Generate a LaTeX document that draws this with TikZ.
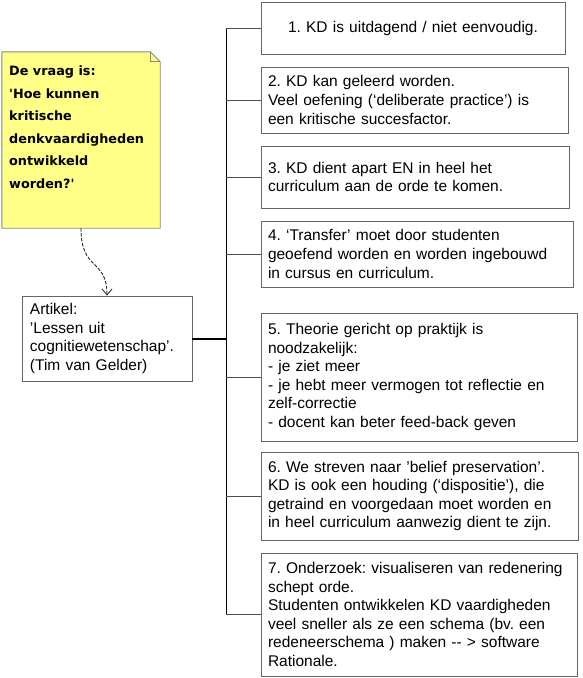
\documentclass[tikz,border=0pt]{standalone}
\usepackage{fontspec}
\setmainfont{Liberation Sans}
\newfontfamily\notefont{DejaVu Sans}
\usetikzlibrary{arrows.meta}
\frenchspacing
\definecolor{notefill}{HTML}{FFFF88}
\definecolor{noteline}{HTML}{888888}
\definecolor{boxline}{HTML}{666666}
\tikzset{
  box/.style={draw=boxline, line width=0.9pt, rectangle, inner xsep=7pt, inner ysep=0pt,
    align=left, font=\fontsize{15.5}{18.6}\selectfont},
  branch/.style={draw=black!70, line width=0.9pt},
  busline/.style={draw=black, line width=0.9pt},
  thickline/.style={draw=black, line width=2pt},
  dashedarrow/.style={draw=black!85, line width=0.9pt, dash pattern=on 3.5pt off 1.5pt,
    -{Straight Barb[length=6pt,width=10pt,line width=0.8pt]}}
}
\begin{document}
\begin{tikzpicture}[x=1pt,y=-1pt]
\useasboundingbox (0,0) rectangle (583,678);
% note
\node[minimum width=158pt, minimum height=176pt, inner sep=0pt] (note) at (81,140) {};
\fill[notefill] (note.north west) -- ([xshift=-10pt]note.north east) -- ([yshift=-10pt]note.north east) -- (note.south east) -- (note.south west) -- cycle;
\draw[noteline, line width=0.9pt] (note.north west) -- ([xshift=-10pt]note.north east) -- ([yshift=-10pt]note.north east) -- (note.south east) -- (note.south west) -- cycle;
\draw[noteline, line width=0.9pt] ([xshift=-10pt]note.north east) -- ([xshift=-10pt,yshift=-10pt]note.north east) -- ([yshift=-10pt]note.north east);
\node[anchor=north west, inner sep=0pt, align=left, font=\notefont\bfseries\fontsize{12.8}{22.5}\selectfont] (notetxt) at (9,66)
  {De vraag is:\\'Hoe kunnen\\kritische\\denkvaardigheden\\ontwikkeld\\worden?'};
% article
\node[box, minimum width=170pt, minimum height=85pt, text width=154pt, inner xsep=8pt] (art) at (107,338.5)
  {Artikel:\\'Lessen uit\\cognitiewetenschap'.\\(Tim van Gelder)};
\draw[dashedarrow] (note.south) .. controls (81,272) and (107,258) .. (art.north);
% boxes
\node[box, minimum width=304pt, minimum height=52pt, text width=290pt, align=center] (b1) at (413,28)
  {1. KD is uitdagend / niet eenvoudig.};
\node[box, minimum width=307pt, minimum height=66pt, text width=293pt] (b2) at (414.5,100)
  {2. KD kan geleerd worden.\\Veel oefening (‘deliberate practice’) is\\een kritische succesfactor.};
\node[box, minimum width=308pt, minimum height=62pt, text width=294pt] (b3) at (415,177)
  {3. KD dient apart EN in heel het\\curriculum aan de orde te komen.\\[4pt]};
\node[box, minimum width=312pt, minimum height=66pt, text width=298pt] (b4) at (417,254)
  {4. ‘Transfer’ moet door studenten\\geoefend worden en worden ingebouwd\\in cursus en curriculum.};
\node[box, minimum width=316pt, minimum height=128pt, text width=302pt] (b5) at (419,377)
  {5. Theorie gericht op praktijk is\\noodzakelijk:\\- je ziet meer\\- je hebt meer vermogen tot reflectie en\\zelf-correctie\\- docent kan beter feed-back geven};
\node[box, minimum width=317pt, minimum height=88pt, text width=303pt] (b6) at (419.5,496)
  {6. We streven naar ’belief preservation’.\\KD is ook een houding (‘dispositie’), die\\getraind en voorgedaan moet worden en\\in heel curriculum aanwezig dient te zijn.};
\node[box, minimum width=316pt, minimum height=123pt, text width=302pt] (b7) at (419,614.5)
  {7. Onderzoek: visualiseren van redenering\\schept orde.\\Studenten ontwikkelen KD vaardigheden\\veel sneller als ze een schema (bv. een\\redeneerschema ) maken {-}{-} > software\\Rationale.};
% bus
\coordinate (bustop) at (226,28);
\coordinate (busbot) at (226,614.5);
\draw[busline] (bustop) -- (busbot);
\foreach \b in {b1,b2,b3,b4,b5,b6,b7} {
  \draw[branch] (\b.west -| bustop) -- (\b.west);
}
\draw[thickline] (art.east) -- (art.east -| bustop);
\end{tikzpicture}
\end{document}
